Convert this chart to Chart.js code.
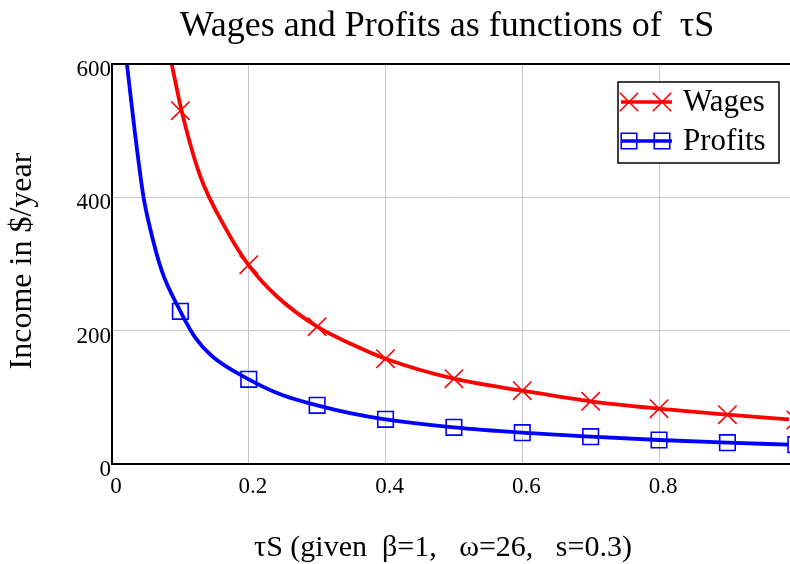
<!DOCTYPE html>
<html>
<head>
<meta charset="utf-8">
<script src="https://cdn.jsdelivr.net/npm/chart.js@4/dist/chart.umd.min.js"></script>
<style>
  html, body { margin: 0; padding: 0; background: #ffffff; }
  canvas { display: block; }
</style>
</head>
<body>
<canvas id="c" width="790" height="564"></canvas>
<script>
// ---- data ----
const wagesCurveX   = [0.0873, 0.102, 0.129, 0.167, 0.2, 0.2405, 0.3, 0.35, 0.4, 0.5, 0.6, 0.7, 0.8, 0.9, 0.99];
const wagesCurveY   = [600,    529,   432,   352,   298, 252,    206, 180,  158, 128, 110, 94,  83,  74,  67];
const profitsCurveX = [0.0218, 0.0327, 0.046, 0.0556, 0.0727, 0.1, 0.1215, 0.146, 0.2, 0.25, 0.3, 0.35, 0.4, 0.5, 0.6, 0.7, 0.8, 0.9, 0.99];
const profitsCurveY = [600,    504,    401,   354,    290,    229, 190,    162,   127, 103,  88,  76,   67,  55,  47,  41,  36,  32,  29];
const markerX       = [0.1, 0.2, 0.3, 0.4, 0.5, 0.6, 0.7, 0.8, 0.9, 1.0];
const wagesMarkers  = [530, 299, 206, 158, 128, 110, 94,  83,  74,  66];
const profitsMarkers= [229, 127, 88,  67,  55,  47,  41,  36,  32,  29];
const xTicks = [0, 0.2, 0.4, 0.6, 0.8];
const yTicks = [0, 200, 400, 600];
const xMin = 0, xMax = 0.9915, yMin = 0, yMax = 600;
const seriesNames = ['Wages', 'Profits'];
const titleText = 'Wages and Profits as functions of  τS';
const xTitle = 'τS (given  β=1,   ω=26,   s=0.3)';
const yTitle = 'Income in $/year';

const RED = '#ff0000', BLUE = '#0000ff';
const FONT = '"Liberation Serif", "Times New Roman", serif';

const pts = (xs, ys) => xs.map((x, i) => ({ x: x, y: ys[i] }));

const decor = {
  id: 'decor',
  afterDraw(chart) {
    const ctx = chart.ctx, a = chart.chartArea;
    ctx.save();
    // top border
    ctx.strokeStyle = '#000'; ctx.lineWidth = 2;
    ctx.beginPath(); ctx.moveTo(a.left - 1, a.top); ctx.lineTo(a.right, a.top); ctx.stroke();
    // title
    ctx.fillStyle = '#000';
    ctx.textAlign = 'center'; ctx.textBaseline = 'middle';
    ctx.font = '36px ' + FONT;
    ctx.fillText(titleText, 447, 27);
    // x title
    ctx.font = '30px ' + FONT;
    ctx.fillText(xTitle, 443, 548);
    // y title
    ctx.save();
    ctx.translate(23, 261);
    ctx.rotate(-Math.PI / 2);
    ctx.font = '32px ' + FONT;
    ctx.fillText(yTitle, 0, 0);
    ctx.restore();
    // legend
    const bx = 618, by = 82, bw = 161, bh = 81;
    ctx.fillStyle = '#fff';
    ctx.fillRect(bx, by, bw, bh);
    ctx.strokeStyle = '#000'; ctx.lineWidth = 1.5;
    ctx.strokeRect(bx, by, bw, bh);
    const rows = [
      { name: seriesNames[0], color: RED, style: 'crossRot', r: 13, y: 102 },
      { name: seriesNames[1], color: BLUE, style: 'rect', r: 11, y: 141 }
    ];
    rows.forEach(row => {
      ctx.strokeStyle = row.color; ctx.lineWidth = 3.6;
      ctx.beginPath(); ctx.moveTo(621, row.y); ctx.lineTo(672, row.y); ctx.stroke();
      [629, 662].forEach(mx => {
        ctx.lineWidth = 1.6;
        ctx.strokeStyle = row.color;
        ctx.fillStyle = 'rgba(0,0,0,0)';
        Chart.helpers.drawPoint(ctx, { pointStyle: row.style, radius: row.r, rotation: 0, borderWidth: 1.6 }, mx, row.y);
      });
      ctx.fillStyle = '#000';
      ctx.textAlign = 'left'; ctx.textBaseline = 'middle';
      ctx.font = '31px ' + FONT;
      ctx.fillText(row.name, 683, row.y + 1);
    });
    ctx.restore();
  }
};

new Chart(document.getElementById('c'), {
  type: 'line',
  data: {
    datasets: [
      { label: seriesNames[0] + ' markers', data: pts(markerX, wagesMarkers), showLine: false,
        pointStyle: 'crossRot', pointRadius: 13, pointBorderWidth: 1.6, pointBorderColor: RED,
        pointBackgroundColor: 'rgba(0,0,0,0)', clip: false },
      { label: seriesNames[1] + ' markers', data: pts(markerX, profitsMarkers), showLine: false,
        pointStyle: 'rect', pointRadius: 11, pointBorderWidth: 1.6, pointBorderColor: BLUE,
        pointBackgroundColor: 'rgba(0,0,0,0)', clip: false },
      { label: seriesNames[0], data: pts(wagesCurveX, wagesCurveY), borderColor: RED, borderWidth: 3.8,
        pointRadius: 0, cubicInterpolationMode: 'monotone', fill: false },
      { label: seriesNames[1], data: pts(profitsCurveX, profitsCurveY), borderColor: BLUE, borderWidth: 3.8,
        pointRadius: 0, cubicInterpolationMode: 'monotone', fill: false }
    ]
  },
  options: {
    responsive: false,
    animation: false,
    devicePixelRatio: 1,
    layout: { autoPadding: false, padding: { top: 64, left: 0, right: 0, bottom: 0 } },
    plugins: { legend: { display: false }, title: { display: false }, tooltip: { enabled: false } },
    scales: {
      x: {
        type: 'linear', min: xMin, max: xMax,
        afterBuildTicks: ax => { ax.ticks = xTicks.map(v => ({ value: v })); },
        afterFit: ax => { ax.height = 100; },
        grid: { color: '#c8c8c8', lineWidth: 1, drawTicks: false },
        border: { color: '#000', width: 2 },
        ticks: { color: '#000', font: { family: FONT, size: 23 }, padding: 9, labelOffset: 4,
                 maxRotation: 0, callback: v => String(v) }
      },
      y: {
        type: 'linear', min: yMin, max: yMax,
        afterBuildTicks: ax => { ax.ticks = yTicks.map(v => ({ value: v })); },
        afterFit: ax => { ax.width = 112; },
        grid: { color: '#c8c8c8', lineWidth: 1, drawTicks: false },
        border: { color: '#000', width: 2 },
        ticks: { color: '#000', font: { family: FONT, size: 23 }, padding: 1, labelOffset: 6,
                 callback: v => String(v) }
      }
    }
  },
  plugins: [decor]
});
</script>
</body>
</html>
